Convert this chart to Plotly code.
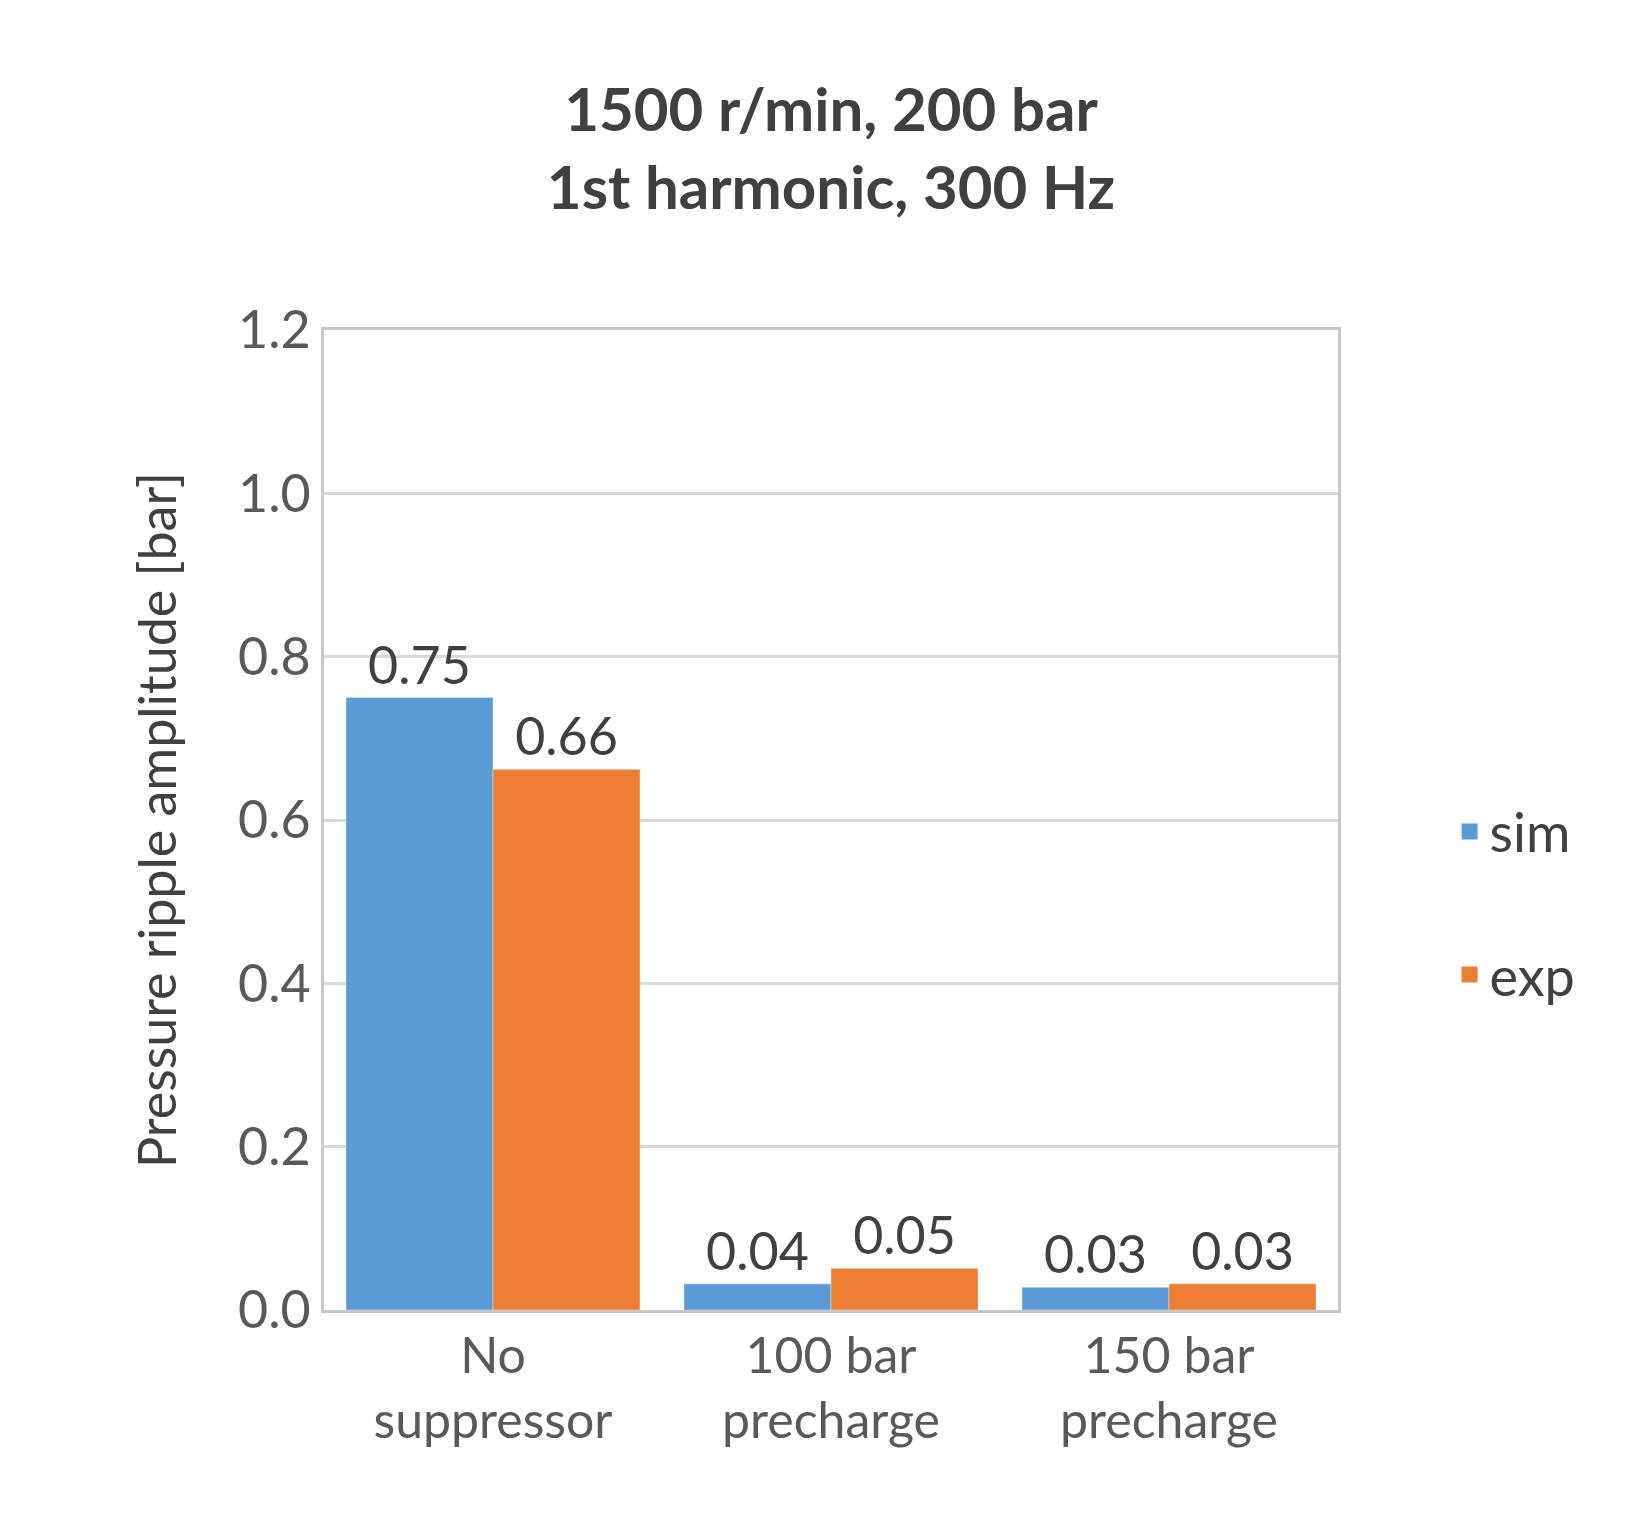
import plotly.graph_objects as go

categories = ["No<br>suppressor", "100 bar<br>precharge", "150 bar<br>precharge"]
sim_values = [0.75, 0.032, 0.028]
exp_values = [0.662, 0.051, 0.032]
sim_labels = ["0.75", "0.04", "0.03"]
exp_labels = ["0.66", "0.05", "0.03"]
series_names = ["sim", "exp"]
series_colors = ["#5b9bd5", "#ed7d31"]

font = "Lato, Open Sans, sans-serif"
fig = go.Figure()
for name, vals, labs, col in zip(series_names, [sim_values, exp_values],
                                 [sim_labels, exp_labels], series_colors):
    fig.add_bar(name=name, x=categories, y=vals, marker_color=col, showlegend=False,
                text=labs, textposition="outside", cliponaxis=False,
                textfont=dict(size=52, color="#404040"))
for name, col in zip(series_names, series_colors):
    fig.add_scatter(name=name, x=[None], y=[None], mode="markers", legendgroup=name,
                    marker=dict(symbol="square", size=34, color=col))
fig.update_layout(
    width=1635, height=1518, barmode="group", bargap=0.13, bargroupgap=0,
    paper_bgcolor="white", plot_bgcolor="white",
    margin=dict(l=316, r=305, t=322, b=216),
    font=dict(family=font, color="#595959"),
    title=dict(text="<b>1500 r/min, 200 bar<br>1st harmonic, 300 Hz</b>",
               x=0.5, xref="paper", y=1 - 123 / 1518, yanchor="middle",
               font=dict(size=60, color="#404040")),
    legend=dict(x=1.11, y=0.415, xanchor="left", yanchor="middle",
                font=dict(size=54, color="#404040"), tracegroupgap=70,
                itemwidth=30),
    xaxis=dict(tickfont=dict(size=50), showline=True, linecolor="#c8c8c8",
               linewidth=3, mirror=True, ticks=""),
    yaxis=dict(range=[0, 1.2], dtick=0.2, tickformat=".1f",
               tickfont=dict(size=52), showgrid=True, gridcolor="#d9d9d9",
               gridwidth=3, showline=True, linecolor="#c8c8c8", linewidth=3,
               mirror=True, zeroline=False, ticks="", ticklen=0,
               title=dict(text="Pressure ripple amplitude [bar]",
                          font=dict(size=52, color="#404040"), standoff=45)),
)
fig.write_html("out.html")
